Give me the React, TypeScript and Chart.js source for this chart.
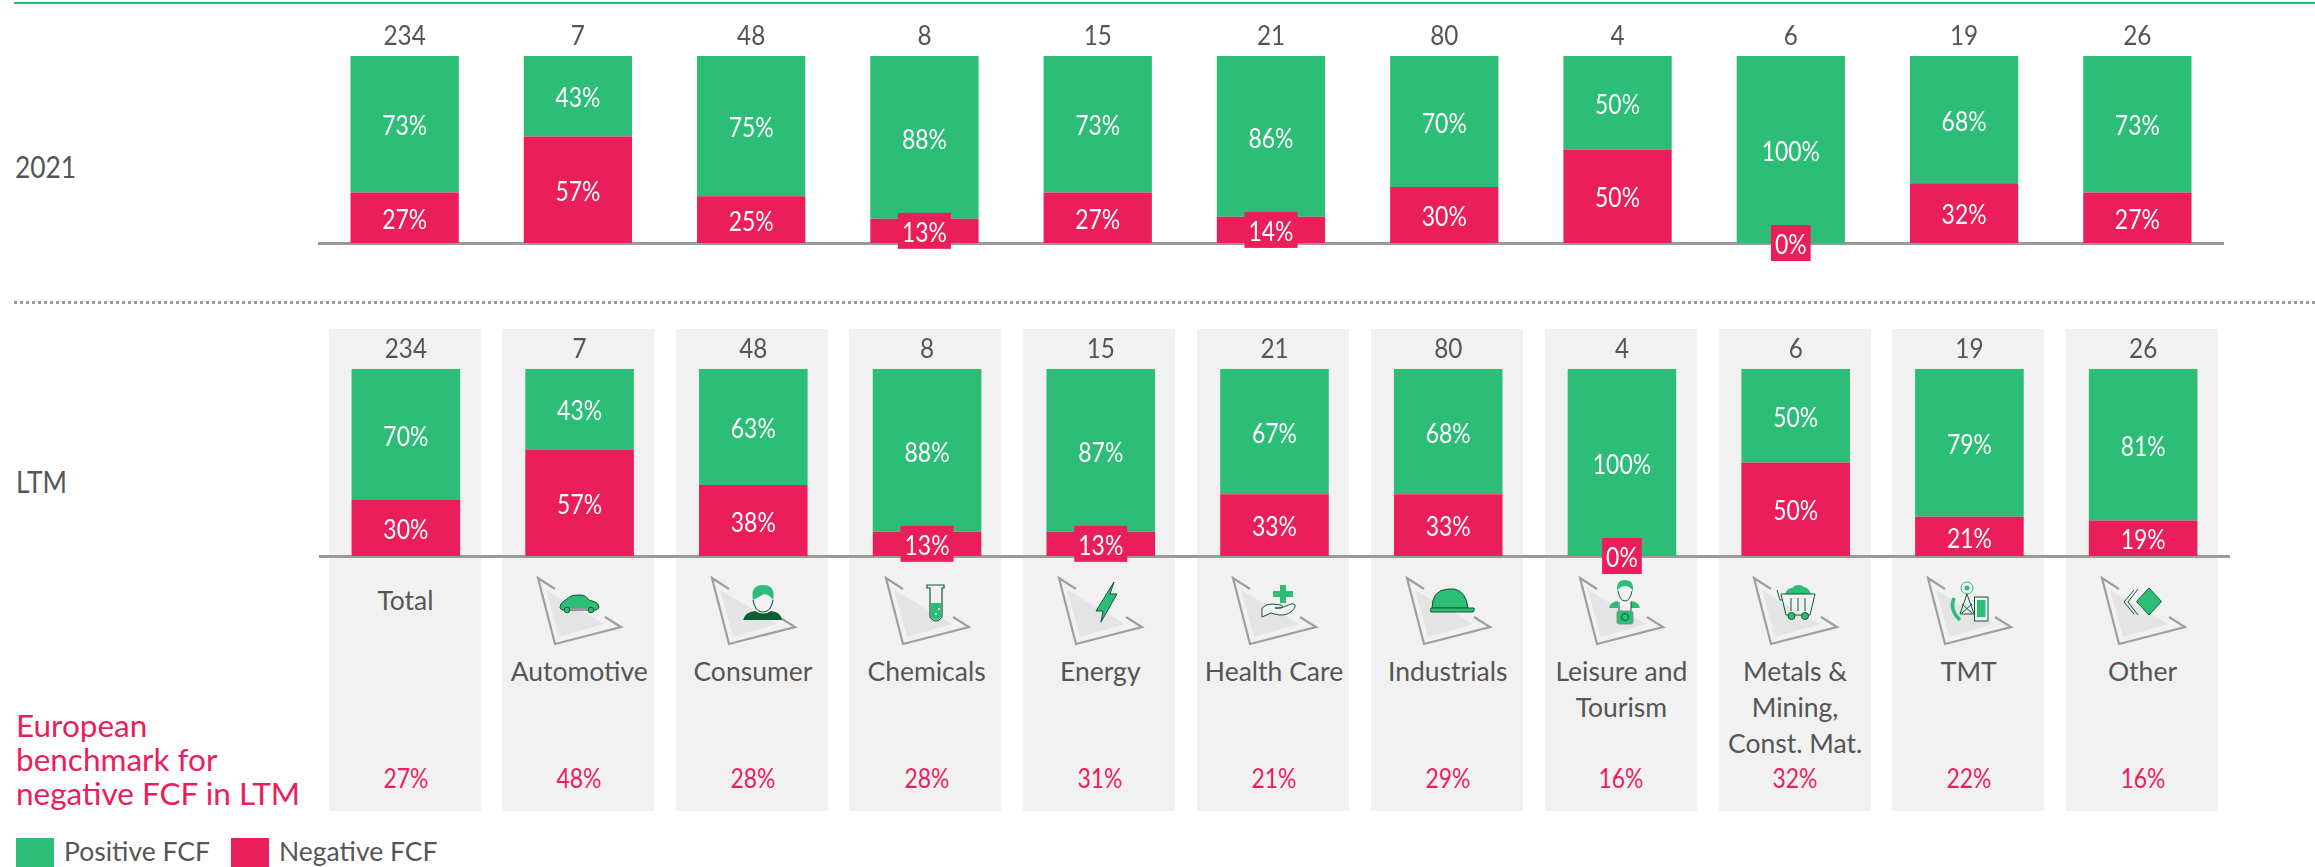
import React, { useEffect, useRef } from "react";
import { Chart, registerables } from "chart.js";

Chart.register(...registerables);

const FONT = "Lato";
const GREEN = "#2cbd77";
const DARK = "#0d5c36";
const PINK = "#e91e5a";
const TEXT = "#555555";

const categories = ["Total", "Automotive", "Consumer", "Chemicals", "Energy", "Health Care", "Industrials", "Leisure and Tourism", "Metals & Mining, Const. Mat.", "TMT", "Other"];
const counts = [234, 7, 48, 8, 15, 21, 80, 4, 6, 19, 26];
const positive2021 = [73, 43, 75, 88, 73, 86, 70, 50, 100, 68, 73];
const negative2021 = [27, 57, 25, 13, 27, 14, 30, 50, 0, 32, 27];
const positiveLtm = [70, 43, 63, 88, 87, 67, 68, 100, 50, 79, 81];
const negativeLtm = [30, 57, 38, 13, 13, 33, 33, 0, 50, 21, 19];
const benchmark = [27, 48, 28, 28, 31, 21, 29, 16, 32, 22, 16];

function squeezed(ctx: any, text: string, x: number, y: number, sx: number) {
  ctx.save();
  ctx.translate(x, y);
  ctx.scale(sx, 1);
  ctx.fillText(text, 0, 0);
  ctx.restore();
}

const labelPlugin = {
  id: "fcfLabels",
  afterDatasetsDraw(chart: any) {
    const { ctx } = chart;
    ctx.save();
    ctx.textAlign = "center";
    ctx.textBaseline = "middle";
    ctx.font = `27px ${FONT}`;
    const baseY = chart.scales.y.getPixelForValue(0);
    const topY = chart.scales.y.getPixelForValue(100);
    const neg = chart.getDatasetMeta(0).data;
    counts.forEach((c, i) => {
      const x = neg[i].x;
      const nv = chart.data.datasets[0].data[i];
      const pv = chart.data.datasets[1].data[i];
      const nTop = chart.scales.y.getPixelForValue(nv);
      ctx.fillStyle = "#ffffff";
      squeezed(ctx, `${pv}%`, x, (topY + nTop) / 2 + 2.5, 0.85);
      const cy = (baseY + nTop) / 2;
      const label = `${nv}%`;
      if (nv < 15) {
        const w = ctx.measureText(label).width * 0.85 + 8;
        ctx.fillStyle = PINK;
        ctx.fillRect(x - w / 2, cy - 18, w, 36);
      }
      ctx.fillStyle = "#ffffff";
      squeezed(ctx, label, x, cy + 2.5, 0.85);
      ctx.fillStyle = TEXT;
      squeezed(ctx, String(c), x, topY - 19.5, 0.9);
    });
    ctx.restore();
  },
};

function BarRow({ left, top, width, height, pos, neg }: any) {
  const ref = useRef<HTMLCanvasElement>(null);
  useEffect(() => {
    const chart = new Chart(ref.current!, {
      type: "bar",
      data: {
        labels: categories,
        datasets: [
          { label: "Negative FCF", data: neg, backgroundColor: PINK, stack: "s" },
          { label: "Positive FCF", data: pos, backgroundColor: GREEN, stack: "s" },
        ],
      },
      options: {
        animation: false,
        responsive: false,
        devicePixelRatio: 1,
        layout: { padding: { top: 48, bottom: 24, left: 0, right: 0 } },
        datasets: { bar: { barPercentage: 0.625, categoryPercentage: 1 } },
        plugins: { legend: { display: false }, tooltip: { enabled: false } },
        scales: {
          x: {
            stacked: true,
            ticks: { display: false },
            grid: { display: false, drawTicks: false },
            border: { color: "#9a9a9a", width: 3 },
          },
          y: { stacked: true, display: false, min: 0, max: 100 },
        },
      } as any,
      plugins: [labelPlugin],
    });
    return () => chart.destroy();
  }, []);
  return <canvas ref={ref} width={width} height={height} style={{ position: "absolute", left, top, width, height }} />;
}

const glyphs: Record<string, React.ReactNode> = {
  Automotive: (
    <g>
      <path d="M43 32 q0-5 4-7 l7-5 q3-1 10-1 q5 0 8 5 l6 2 q4 1 4 6 l-3 2 h-34 z" fill={GREEN} stroke={DARK} strokeWidth="1" />
      <path d="M50 33 h26" stroke="#9a9a9a" strokeWidth="2" />
      <circle cx="50" cy="34" r="2.8" fill={GREEN} stroke={DARK} />
      <circle cx="74" cy="34" r="2.8" fill={GREEN} stroke={DARK} />
    </g>
  ),
  Consumer: (
    <g>
      <path d="M62 24 q-3-15 10-15 q13 0 10 15 q-4-6-9-6 q-5 3-11 6z" fill={GREEN} />
      <path d="M62 24 q2 12 10 12 q8 0 10-12" fill="none" stroke={DARK} strokeWidth="1.2" />
      <path d="M52 44 q2-8 12-9 q8 5 16 0 q10 1 11 9z" fill={DARK} />
    </g>
  ),
  Chemicals: (
    <g>
      <path d="M62 9 h17 v3 h-2 v29 q-6 8-12 0 v-29 h-3z" fill="none" stroke={DARK} strokeWidth="1.2" />
      <path d="M66 27 h10 v14 q-5 6-10 0z" fill={GREEN} />
      <circle cx="71" cy="38" r="1" fill="#fff" /><circle cx="74" cy="33" r="1" fill="#fff" />
    </g>
  ),
  Energy: <path d="M76 6 l-18 29 h7 l-2 11 l16-28 h-7 z" fill={GREEN} stroke={DARK} strokeWidth="1" />,
  "Health Care": (
    <g>
      <path d="M68 9 h6 v6 h7 v6 h-7 v6 h-6 v-6 h-7 v-6 h7z" fill={GREEN} />
      <path d="M50 41 v-9 q5-5 11-4 l8 1 q4 2-2 3 l-4 0 h6 l10-4 q5-1 4 3 q-5 9-16 8 l-8-2 z" fill="#f1f1f1" stroke={DARK} strokeWidth="1" />
    </g>
  ),
  Industrials: (
    <g>
      <path d="M46 32 q0-18 16-19 h6 q12 2 14 19z" fill={GREEN} stroke={DARK} strokeWidth="1" />
      <path d="M45 32 h43 q1 3-1 4 h-42 q-1-2 0-4z" fill={GREEN} stroke={DARK} strokeWidth="1" />
    </g>
  ),
  "Leisure and Tourism": (
    <g>
      <path d="M58 15 q-1-11 8-11 q9 0 8 11 q-3-5-8-5 q-5 0-8 5z" fill={GREEN} />
      <path d="M59 15 q2 10 7 10 q5 0 7-10" fill="none" stroke={DARK} strokeWidth="1" />
      <path d="M50 32 q1-6 9-7 v7z M81 32 q-1-6-9-7 v7z" fill={GREEN} />
      <path d="M60 26 v9 M72 26 v9" stroke={DARK} strokeWidth="1" />
      <rect x="58" y="35" width="16" height="13" rx="2" fill={GREEN} stroke="#7a9a88" strokeWidth="1" />
      <circle cx="66" cy="41" r="3.5" fill="none" stroke={DARK} strokeWidth="1" />
    </g>
  ),
  "Metals & Mining, Const. Mat.": (
    <g>
      <path d="M52 18 q2-6 7-6 q3-3 6-3 q4 0 6 2 q5 1 7 7z" fill={GREEN} />
      <path d="M48 18 h34 l-5 21 h-24z M58 22 v13 M65 22 v13 M72 22 v13 M44 14 l3 10 h3" fill="none" stroke={DARK} strokeWidth="1" />
      <circle cx="58.5" cy="40" r="3.5" fill={GREEN} stroke={DARK} /><circle cx="72" cy="40" r="3.5" fill={GREEN} stroke={DARK} />
    </g>
  ),
  TMT: (
    <g>
      <circle cx="60" cy="12" r="6" fill="none" stroke={GREEN} /><circle cx="60" cy="12" r="2.5" fill={GREEN} />
      <path d="M60 18 l-7 20 h14z M55 28 l10 9 M65 28 l-10 9" fill="none" stroke={DARK} strokeWidth="1" />
      <path d="M47 22 q-5 12 6 22" fill="none" stroke={GREEN} strokeWidth="3.5" />
      <rect x="67.5" y="21" width="13.5" height="24" fill="#f1f1f1" stroke={DARK} strokeWidth="1" />
      <rect x="70" y="24" width="8.5" height="17" fill={GREEN} />
    </g>
  ),
  Other: (
    <g>
      <path d="M53 14 l-10 12 l10 12 M57 13 l-10 13 l10 13" stroke={DARK} fill="none" strokeWidth="1" />
      <path d="M68 12 l12.5 13.5 l-12.5 13.5 l-12.5-13.5z" fill={GREEN} stroke={DARK} strokeWidth="1" />
    </g>
  ),
};

function Icon({ name, cx }: { name: string; cx: number }) {
  return (
    <svg width={120} height={74} viewBox="0 0 120 74" style={{ position: "absolute", left: cx - 62, top: 576 }}>
      <path d="M29 14 L42 61 L87 48 z" fill="#e4e4e4" />
      <path d="M38 13 L21 2 L38 68 L104 51 L88 41" fill="none" stroke="#9e9e9e" strokeWidth="2.2" />
      {glyphs[name]}
    </svg>
  );
}

const panelLefts = [329, 502, 676, 849, 1023, 1197, 1371, 1545, 1719, 1892, 2066];
const PANEL_W = 152;
const centerOf = (i: number) => 405.5 + i * 173.7;

const abs = (o: React.CSSProperties): React.CSSProperties => ({ position: "absolute", fontFamily: FONT, color: TEXT, ...o });

export default function App() {
  return (
    <div style={{ position: "absolute", left: 0, top: 0, width: 2315, height: 867, overflow: "hidden", background: "#fff" }}>
      <div style={{ position: "absolute", left: 14, top: 2, width: 2301, height: 2, background: GREEN }} />
      <div style={{ position: "absolute", left: 14, top: 301, width: 2301, borderTop: "3px dotted #9c9c9c" }} />
      {panelLefts.map((l, i) => (
        <div key={i} style={{ position: "absolute", left: l, top: 329, width: PANEL_W, height: 482, background: "#f1f1f1" }} />
      ))}
      {categories.map((c, i) => (i === 0 ? null : <Icon key={c} name={c} cx={centerOf(i)} />))}
      <BarRow left={318} top={8} width={1906} height={259} pos={positive2021} neg={negative2021} />
      <BarRow left={319} top={321} width={1911} height={259} pos={positiveLtm} neg={negativeLtm} />
      <div style={abs({ left: 15, top: 146, fontSize: 31, lineHeight: "40px", transform: "scaleX(0.85)", transformOrigin: "left" })}>2021</div>
      <div style={abs({ left: 16, top: 461, fontSize: 31, lineHeight: "40px", transform: "scaleX(0.85)", transformOrigin: "left" })}>LTM</div>
      <div style={abs({ left: 16, top: 708, fontSize: 31.5, lineHeight: "34px", color: PINK, whiteSpace: "nowrap" })}>
        European<br />benchmark for<br />negative FCF in LTM
      </div>
      {categories.map((c, i) => (
        <div key={c} style={abs({ left: centerOf(i) - 76, width: 152, top: i === 0 ? 582 : 653, textAlign: "center", fontSize: 26.5, lineHeight: "36px" })}>{c}</div>
      ))}
      {benchmark.map((b, i) => (
        <div key={i} style={abs({ left: centerOf(i) - 76, width: 152, top: 763, textAlign: "center", fontSize: 27, lineHeight: "30px", color: PINK, transform: "scaleX(0.85)" })}>{b}%</div>
      ))}
      <div style={{ position: "absolute", left: 16, top: 838, width: 38, height: 29, background: GREEN }} />
      <div style={abs({ left: 64, top: 836, fontSize: 26.5, lineHeight: "31px" })}>Positive FCF</div>
      <div style={{ position: "absolute", left: 231, top: 838, width: 38, height: 29, background: PINK }} />
      <div style={abs({ left: 279, top: 836, fontSize: 26.5, lineHeight: "31px" })}>Negative FCF</div>
    </div>
  );
}
